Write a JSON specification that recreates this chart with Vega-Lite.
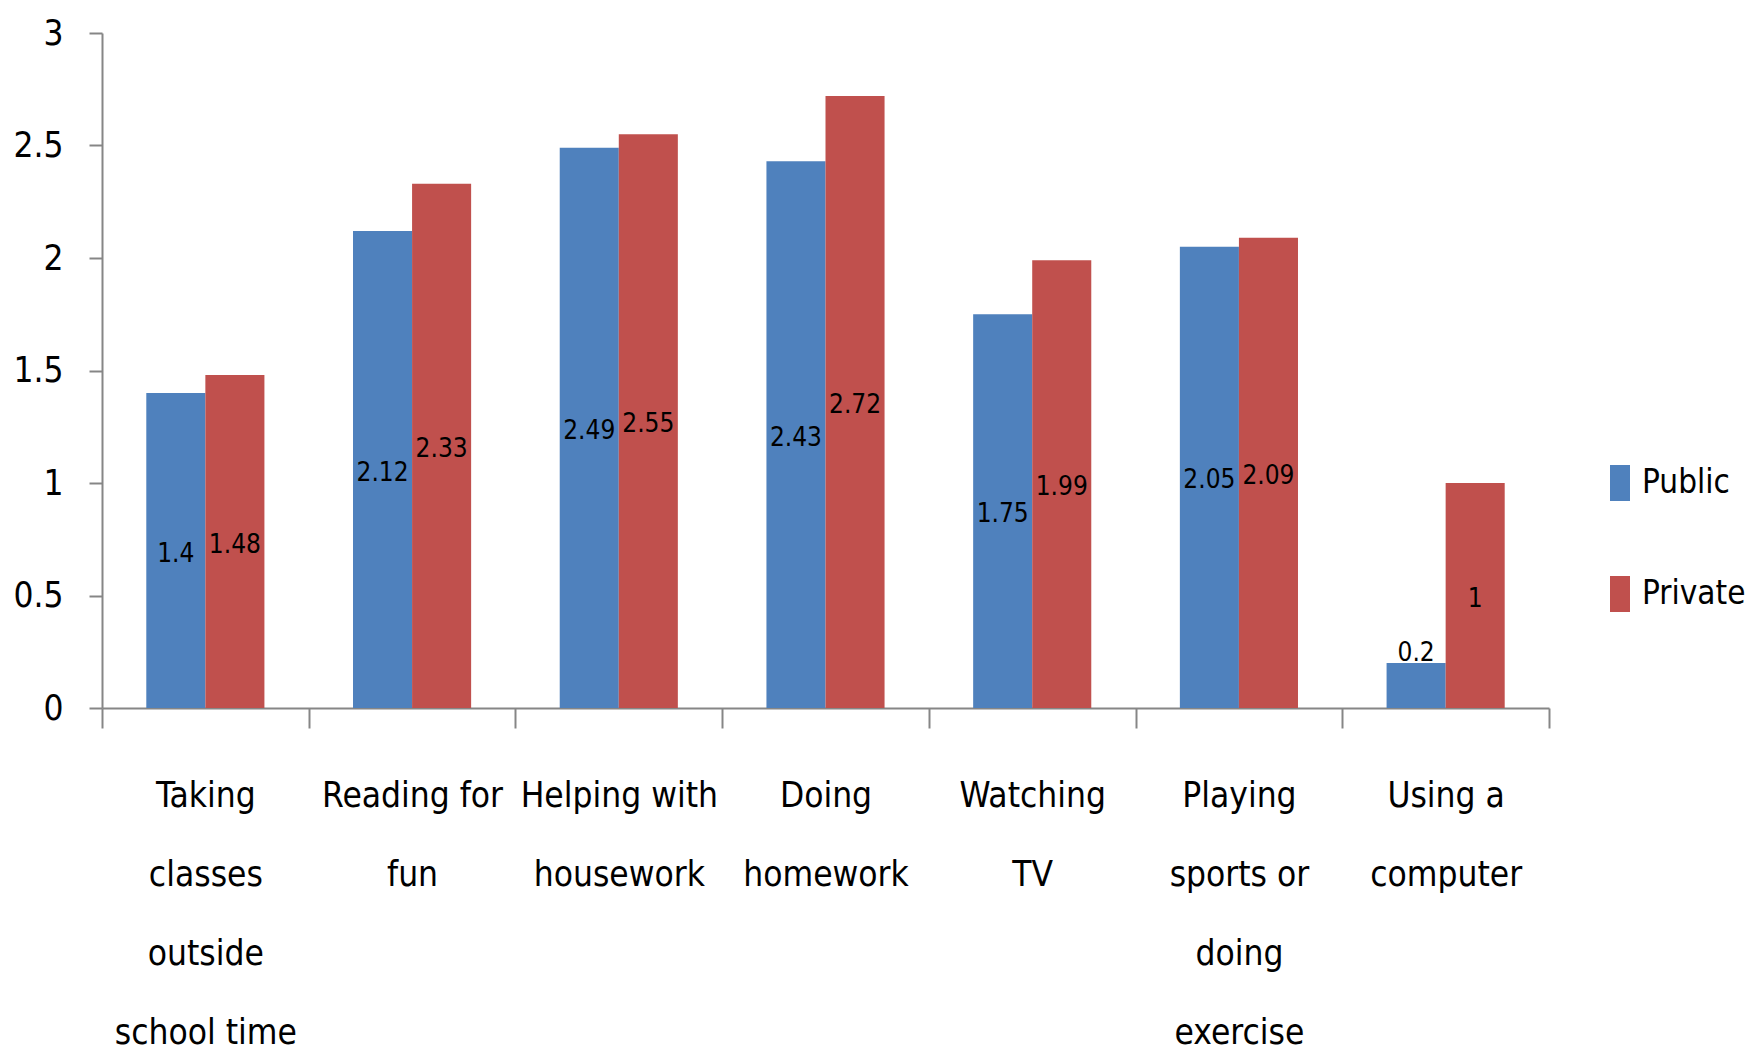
{
  "$schema": "https://vega.github.io/schema/vega-lite/v6.json",
  "autosize": {"type": "none"},
  "width": 1447,
  "height": 675,
  "padding": {"left": 102, "top": 33, "right": 207, "bottom": 352},
  "background": "white",
  "config": {"view": {"stroke": null}},
  "data": {
    "values": [
      {"activity": "Taking classes outside school time", "school": "Public", "value": 1.4},
      {"activity": "Taking classes outside school time", "school": "Private", "value": 1.48},
      {"activity": "Reading for fun", "school": "Public", "value": 2.12},
      {"activity": "Reading for fun", "school": "Private", "value": 2.33},
      {"activity": "Helping with housework", "school": "Public", "value": 2.49},
      {"activity": "Helping with housework", "school": "Private", "value": 2.55},
      {"activity": "Doing homework", "school": "Public", "value": 2.43},
      {"activity": "Doing homework", "school": "Private", "value": 2.72},
      {"activity": "Watching TV", "school": "Public", "value": 1.75},
      {"activity": "Watching TV", "school": "Private", "value": 1.99},
      {"activity": "Playing sports or doing exercise", "school": "Public", "value": 2.05},
      {"activity": "Playing sports or doing exercise", "school": "Private", "value": 2.09},
      {"activity": "Using a computer", "school": "Public", "value": 0.2},
      {"activity": "Using a computer", "school": "Private", "value": 1}
    ]
  },
  "encoding": {
    "x": {
      "field": "activity",
      "type": "nominal",
      "sort": null,
      "scale": {"paddingInner": 0, "paddingOuter": 0},
      "axis": {
        "title": null,
        "labelAngle": 0,
        "tickBand": "extent",
        "tickSize": 20,
        "tickWidth": 2,
        "tickColor": "#868686",
        "domainColor": "#868686",
        "domainWidth": 2,
        "labelFont": "DejaVu Sans Condensed, sans-serif",
        "labelFontSize": 35,
        "labelColor": "#000000",
        "labelPadding": 50,
        "labelLineHeight": 79,
        "labelOverlap": false,
        "labelBound": false,
        "labelLimit": 0,
        "labelExpr": "{'Taking classes outside school time': ['Taking', 'classes', 'outside', 'school time'], 'Reading for fun': ['Reading for', 'fun'], 'Helping with housework': ['Helping with', 'housework'], 'Doing homework': ['Doing', 'homework'], 'Watching TV': ['Watching', 'TV'], 'Playing sports or doing exercise': ['Playing', 'sports or', 'doing', 'exercise'], 'Using a computer': ['Using a', 'computer']}[datum.label]"
      }
    },
    "xOffset": {
      "field": "school",
      "type": "nominal",
      "sort": ["Public", "Private"],
      "scale": {"paddingInner": 0, "paddingOuter": 0.75}
    }
  },
  "layer": [
    {
      "mark": {"type": "bar"},
      "encoding": {
        "y": {
          "field": "value",
          "type": "quantitative",
          "scale": {"domain": [0, 3], "nice": false},
          "axis": {
            "title": null,
            "values": [0, 0.5, 1, 1.5, 2, 2.5, 3],
            "format": "~g",
            "grid": false,
            "tickSize": 13,
            "tickWidth": 2,
            "tickColor": "#868686",
            "domainColor": "#868686",
            "domainWidth": 2,
            "labelPadding": 26,
            "labelFont": "DejaVu Sans Condensed, sans-serif",
            "labelFontSize": 35,
            "labelColor": "#000000"
          }
        },
        "color": {
          "field": "school",
          "type": "nominal",
          "sort": ["Public", "Private"],
          "scale": {"domain": ["Public", "Private"], "range": ["#4F81BD", "#C0504D"]},
          "legend": {
            "orient": "none",
            "legendX": 1498,
            "legendY": 430,
            "title": null,
            "labelFont": "DejaVu Sans Condensed, sans-serif",
            "labelFontSize": 33,
            "labelColor": "#000000",
            "symbolType": "M-0.5,-0.9L0.5,-0.9L0.5,0.9L-0.5,0.9Z",
            "symbolSize": 1600,
            "symbolStrokeWidth": 0,
            "rowPadding": 73,
            "labelOffset": 2
          }
        }
      }
    },
    {
      "transform": [
        {"calculate": "datum.value < 0.5 ? datum.value + 0.06 : datum.value / 2", "as": "labelPos"}
      ],
      "mark": {
        "type": "text",
        "font": "DejaVu Sans Condensed, sans-serif",
        "fontSize": 26,
        "color": "#000000",
        "baseline": "middle",
        "align": "center",
        "dy": 3
      },
      "encoding": {
        "y": {"field": "labelPos", "type": "quantitative"},
        "text": {"field": "value", "type": "quantitative", "format": "~g"}
      }
    }
  ]
}
